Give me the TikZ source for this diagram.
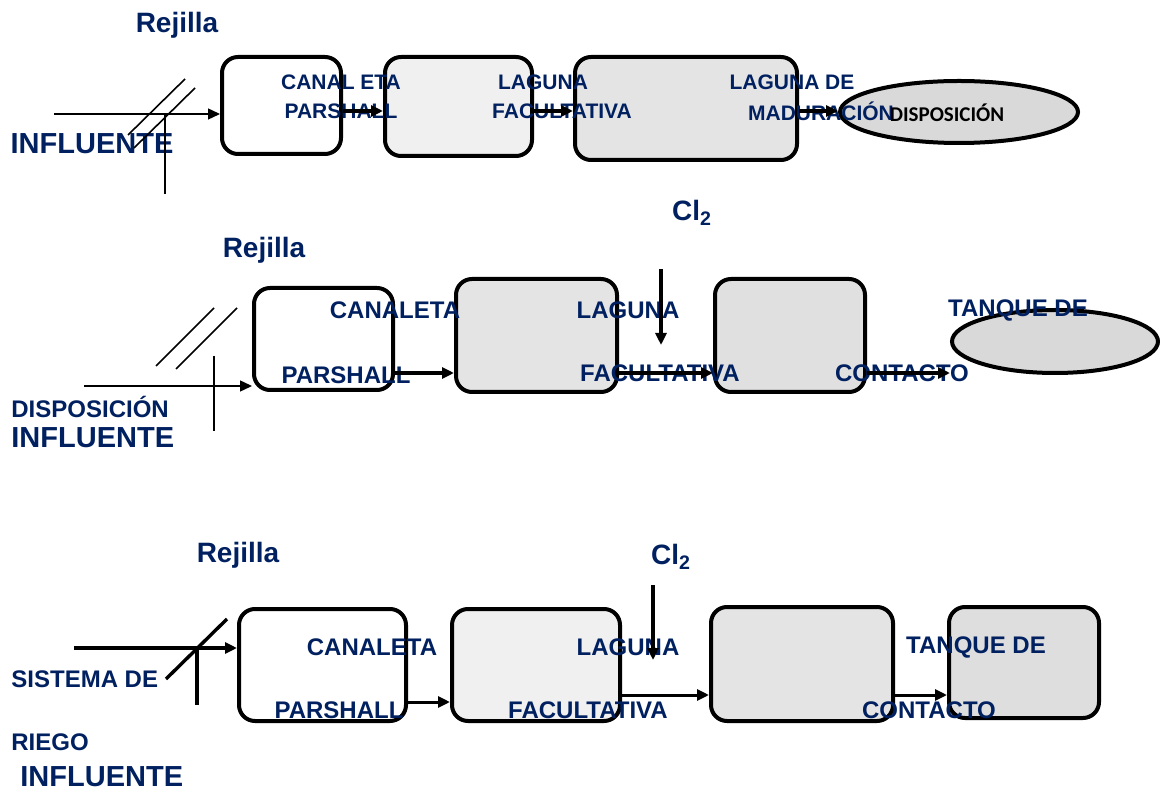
\documentclass[tikz,border=0pt]{standalone}
\usepackage{fontspec}
\setmainfont{Liberation Sans}
\newfontfamily\calib{Carlito}
\usetikzlibrary{arrows.meta,shapes.geometric}
\definecolor{navy}{RGB}{0,32,96}
\tikzset{
  tank/.style={draw, line width=2pt, rounded corners=8pt, inner sep=0pt},
  pond/.style={draw, ellipse, line width=2pt, fill=gray!30, inner sep=0pt},
  lab/.style={text=navy, font=\bfseries\fontsize{12}{14}\selectfont, inner sep=0pt},
  labs/.style={text=navy, font=\bfseries\fontsize{10.5}{12}\selectfont, inner sep=0pt},
  big/.style={text=navy, font=\bfseries\fontsize{14.5}{17}\selectfont, inner sep=0pt},
  flow/.style={-{Triangle[length=6pt,width=5.5pt]}},
}
\begin{document}
\begin{tikzpicture}[x=0.5pt,y=-0.5pt]
\useasboundingbox (0,0) rectangle (1160,790);
\node[tank, fill=white, minimum width=59.5pt, minimum height=48.5pt] (c1) at (281.5,105.5) {};
\node[tank, fill=gray!12, minimum width=73.5pt, minimum height=49.5pt] (f1) at (458.5,106.5) {};
\node[tank, fill=gray!21, minimum width=111pt, minimum height=51.5pt] (m1) at (686,108.5) {};
\node[pond, minimum width=119pt, minimum height=31pt] (d1) at (959,112) {};
\node[tank, fill=white, minimum width=69.5pt, minimum height=51pt] (c2) at (323.5,339) {};
\node[tank, fill=gray!21, minimum width=80.5pt, minimum height=56.5pt] (f2) at (536.5,335.5) {};
\node[tank, fill=gray!24, minimum width=75pt, minimum height=56.5pt] (k2) at (790,335.5) {};
\node[pond, minimum width=103pt, minimum height=31.5pt] (t2) at (1055,341.5) {};
\node[tank, fill=white, minimum width=83.5pt, minimum height=56pt] (c3) at (322.5,665) {};
\node[tank, fill=gray!12, minimum width=84pt, minimum height=56pt] (f3) at (536,665) {};
\node[tank, fill=gray!21, minimum width=91pt, minimum height=57pt] (k3) at (802,664) {};
\node[tank, fill=gray!26, minimum width=75pt, minimum height=55.5pt] (t3) at (1024,662.5) {};
\node[big, font=\bfseries\fontsize{14}{17}\selectfont] (rej1) at (177,25) {Rejilla};
\node[big] (inf1) at (92,144) {INFLUENTE};
\node[labs] (can1) at (341,82) {CANAL ETA};
\node[labs] (par1) at (341,111) {PARSHALL};
\node[labs] (lag1) at (543,82) {LAGUNA};
\node[labs] (fac1) at (562,111) {FACULTATIVA};
\node[labs] (lagm1) at (792,82) {LAGUNA DE};
\node[labs] (mad1) at (821,111) {MADURACIÓN};
\node[inner sep=0pt, font=\calib\bfseries\fontsize{10.5}{12}\selectfont] (dis1) at (947,113) {DISPOSICIÓN};
\node[big, font=\bfseries\fontsize{14}{17}\selectfont] (rej2) at (264,250) {Rejilla};
\node[big, font=\bfseries\fontsize{14}{17}\selectfont] (cl2) at (692,213) {Cl\textsubscript{2}};
\node[lab] (can2) at (395,310) {CANALETA};
\node[lab] (par2) at (346,375) {PARSHALL};
\node[lab] (lag2) at (628,310) {LAGUNA};
\node[lab] (fac2) at (660,373) {FACULTATIVA};
\node[lab] (con2) at (902,373) {CONTACTO};
\node[lab] (tan2) at (1018,310) {TANQUE DE};
\node[lab, anchor=west] (dis2) at (11,407) {DISPOSICIÓN};
\node[big, anchor=west] (inf2) at (11,438) {INFLUENTE};
\node[big, font=\bfseries\fontsize{14}{17}\selectfont] (rej3) at (238,555) {Rejilla};
\node[big, font=\bfseries\fontsize{14}{17}\selectfont] (cl3) at (671,557) {Cl\textsubscript{2}};
\node[lab] (can3) at (372,647) {CANALETA};
\node[lab] (par3) at (339,710) {PARSHALL};
\node[lab] (lag3) at (628,647) {LAGUNA};
\node[lab] (fac3) at (588,710) {FACULTATIVA};
\node[lab] (tan3) at (976,647) {TANQUE DE};
\node[lab] (con3) at (929,710) {CONTACTO};
\node[lab, anchor=west] (sis3) at (11,679) {SISTEMA DE};
\node[lab, anchor=west] (rie3) at (11,742) {RIEGO};
\node[big, anchor=west] (inf3) at (20,777) {INFLUENTE};
\coordinate (in1) at (54,114);
\coordinate (in2) at (84,386);
\coordinate (in3) at (74,648);
\coordinate (a3) at (0,702);
\coordinate (b3) at (0,695);
\coordinate (g2) at (661,269);
\coordinate (h2) at (661,345);
\coordinate (g3) at (653,585);
\coordinate (h3) at (653,660);
\draw[flow, line width=0.7pt] (in1) -- (in1 -| c1.west);
\draw[line width=0.8pt] (128,135) -- (185,79);
\draw[line width=0.8pt] (134,148) -- (195,88);
\draw[line width=0.8pt] (165,115) -- (165,194);
\draw[flow, line width=2pt] (c1.east |- par1) -- (f1.west |- par1);
\draw[flow, line width=2pt] (f1.east |- par1) -- (m1.west |- par1);
\draw[flow, line width=2pt] (m1.east |- par1) -- (d1.west |- par1);
\draw[flow, line width=0.7pt] (in2) -- (in2 -| c2.west);
\draw[line width=0.8pt] (156,366) -- (214,308);
\draw[line width=0.8pt] (176,369) -- (237,308);
\draw[line width=0.8pt] (214,356) -- (214,431);
\draw[flow, line width=1.7pt] (c2.east |- fac2) -- (f2.west |- fac2);
\draw[flow, line width=1.7pt] (f2.east |- fac2) -- (k2.west |- fac2);
\draw[flow, line width=1.7pt] (k2.east |- fac2) -- (t2.west |- fac2);
\draw[flow, line width=1.7pt] (g2) -- (h2);
\draw[flow, line width=1.7pt] (in3) -- (in3 -| c3.west);
\draw[line width=1.7pt] (166,679) -- (227,619);
\draw[line width=1.7pt] (197,648) -- (197,705);
\draw[flow, line width=1.5pt] (c3.east |- a3) -- (f3.west |- a3);
\draw[flow, line width=1.5pt] (f3.east |- b3) -- (k3.west |- b3);
\draw[flow, line width=1.5pt] (k3.east |- b3) -- (t3.west |- b3);
\draw[flow, line width=1.7pt] (g3) -- (h3);
\end{tikzpicture}
\end{document}
